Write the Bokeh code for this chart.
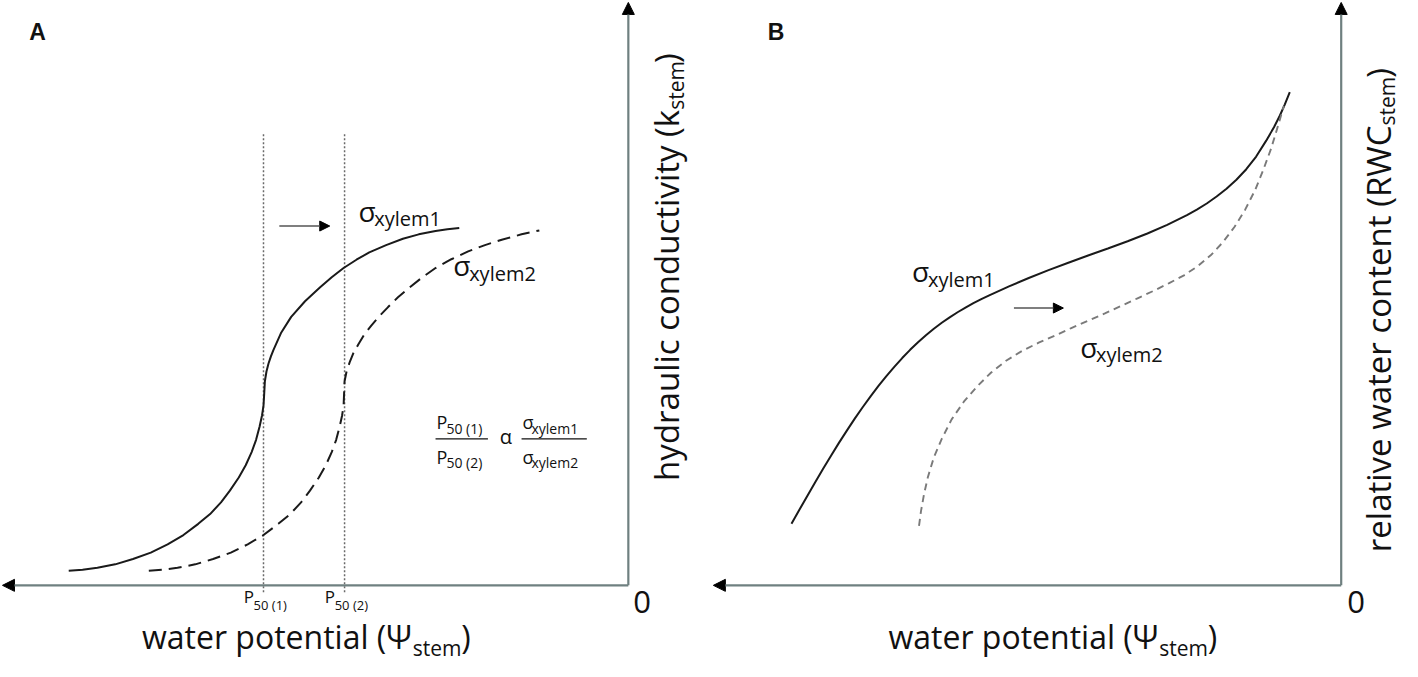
import math
from bokeh.plotting import figure
from bokeh.models import Range1d, Arrow, NormalHead
from bokeh.layouts import row
from bokeh.embed import file_html
from bokeh.resources import INLINE
from bokeh.core.properties import value

# ---------------- data (arbitrary units) ----------------
# Panel A: hydraulic conductivity vs water potential
psi_a1 = [-5.66, -5.52, -5.37, -5.19, -5.01, -4.83, -4.66, -4.50, -4.35, -4.23, -4.12,
          -4.03, -3.94, -3.87, -3.81, -3.765, -3.73, -3.705, -3.69, -3.683, -3.676,
          -3.66, -3.64, -3.615, -3.59, -3.51, -3.41, -3.27, -3.12, -3.00, -2.88,
          -2.75, -2.62, -2.45, -2.28, -2.12, -1.95, -1.83, -1.71]
k_a1 = [0.15, 0.16, 0.18, 0.215, 0.27, 0.335, 0.42, 0.515, 0.63, 0.73, 0.85,
        0.97, 1.105, 1.23, 1.365, 1.49, 1.625, 1.74, 1.84, 1.96, 2.09,
        2.19, 2.27, 2.345, 2.41, 2.59, 2.75, 2.91, 3.05, 3.155, 3.25,
        3.335, 3.41, 3.485, 3.55, 3.595, 3.63, 3.648, 3.66]
psi_a2 = [-4.85, -4.71, -4.56, -4.38, -4.20, -4.02, -3.85, -3.69, -3.54, -3.42, -3.31,
          -3.22, -3.13, -3.06, -3.00, -2.955, -2.92, -2.895, -2.88, -2.875,
          -2.87, -2.85, -2.82, -2.78, -2.73, -2.67, -2.60, -2.52, -2.43, -2.33,
          -2.22, -2.09, -1.95, -1.79, -1.62, -1.45, -1.28, -1.08, -0.90]
k_a2 = [0.15, 0.16, 0.18, 0.215, 0.27, 0.335, 0.42, 0.515, 0.63, 0.73, 0.85,
        0.97, 1.105, 1.23, 1.365, 1.49, 1.625, 1.74, 1.84, 1.96,
        2.09, 2.19, 2.28, 2.38, 2.47, 2.57, 2.66, 2.755, 2.85, 2.95,
        3.045, 3.15, 3.25, 3.34, 3.42, 3.485, 3.54, 3.595, 3.635]
p50_psi = [-3.69, -2.87]
p50_labels = ["50 (1)", "50 (2)"]

# Panel B: relative water content vs water potential
psi_b1 = [-5.56, -5.48, -5.40, -5.32, -5.24, -5.16, -5.08, -5.00, -4.92, -4.84, -4.76,
          -4.68, -4.60, -4.52, -4.44, -4.36, -4.28, -4.20, -4.12, -4.04, -3.96,
          -3.88, -3.80, -3.72, -3.64, -3.56, -3.36, -3.16, -2.96, -2.76, -2.56,
          -2.36, -2.16, -1.96, -1.76, -1.56, -1.46, -1.36, -1.26, -1.16, -1.06,
          -0.96, -0.86, -0.76, -0.68, -0.62, -0.57, -0.52]
rwc_b1 = [0.63, 0.774, 0.916, 1.056, 1.194, 1.328, 1.459, 1.585, 1.707, 1.824, 1.936,
          2.042, 2.143, 2.238, 2.328, 2.412, 2.49, 2.562, 2.628, 2.689, 2.745,
          2.797, 2.845, 2.89, 2.931, 2.97, 3.062, 3.148, 3.228, 3.304, 3.378,
          3.45, 3.524, 3.604, 3.692, 3.792, 3.848, 3.911, 3.982, 4.062, 4.154,
          4.262, 4.392, 4.552, 4.692, 4.812, 4.927, 5.052]
psi_b2 = [-4.27, -4.25, -4.22, -4.18, -4.12, -4.04, -3.94, -3.81, -3.68, -3.54, -3.39,
          -3.23, -3.06, -2.89, -2.73, -2.56, -2.39, -2.23, -2.06, -1.89, -1.74,
          -1.59, -1.45, -1.32, -1.20, -1.08, -0.97, -0.87, -0.79, -0.71, -0.65, -0.58]
rwc_b2 = [0.61, 0.76, 0.93, 1.11, 1.31, 1.50, 1.70, 1.89, 2.04, 2.18, 2.30,
          2.40, 2.485, 2.56, 2.635, 2.71, 2.785, 2.86, 2.94, 3.02, 3.095,
          3.175, 3.27, 3.38, 3.51, 3.67, 3.85, 4.05, 4.25, 4.47, 4.67, 4.91]

# ---------------- styling ----------------
FONT = "Open Sans"
INK = "#111111"
AXIS = "#6f8080"
Y_RANGE = (-0.78, 5.99)
PX_X = 98.87   # screen px per data unit (x)
PX_Y = 97.64   # screen px per data unit (y)


def make_fig(xr):
    p = figure(width=701, height=661, x_range=Range1d(*xr), y_range=Range1d(*Y_RANGE),
               output_backend="svg", toolbar_location=None, min_border=0,
               x_axis_location=None, y_axis_location=None)
    p.grid.visible = False
    p.outline_line_color = None
    p.background_fill_color = "white"
    p.border_fill_color = "white"
    return p


def txt(p, x, y, s, size, align="left", angle=0.0, font=FONT, style="normal", color=INK):
    """(x, y) is the text baseline start; converted to a 'middle' anchor."""
    off = 0.37 * size
    if angle == 0.0:
        y = y + off / PX_Y
    else:
        x = x - off / PX_X
    p.text(x=[x], y=[y], text=[s], text_font=value(font), text_font_size=value(f"{size}px"),
           text_align=align, text_baseline="middle", angle=angle,
           text_font_style=style, text_color=color)


def axes(p, xtip):
    for (xe, ye) in [(xtip, 0), (0, 5.97)]:
        p.add_layout(Arrow(end=NormalHead(size=12, fill_color="black", line_color="black"),
                           x_start=0, y_start=0, x_end=xe, y_end=ye,
                           line_color=AXIS, line_width=2.2))


def shift_arrow(p, x0, x1, y):
    p.add_layout(Arrow(end=NormalHead(size=10, fill_color="black", line_color="black"),
                       x_start=x0, y_start=y, x_end=x1, y_end=y,
                       line_color="#555555", line_width=1.5))


def sigma_label(p, x, y, sub, size=28, subsize=20):
    txt(p, x, y, "σ", size)
    txt(p, x + 0.16, y - 0.05, sub, subsize)


# ---------------- Panel A ----------------
pA = make_fig((-6.35, 0.74))
axes(pA, -6.33)
pA.segment(x0=p50_psi, y0=[-0.07] * 2, x1=p50_psi, y1=[4.62] * 2,
           line_dash="2 2", line_color="#6a6a6a", line_width=1.5)
pA.line(psi_a1, k_a1, line_color="#1a1a1a", line_width=2)
pA.line(psi_a2, k_a2, line_color="#1a1a1a", line_width=2, line_dash="13 7")
shift_arrow(pA, -3.53, -3.02, 3.68)
sigma_label(pA, -2.73, 3.73, "xylem1")
sigma_label(pA, -1.77, 3.17, "xylem2")

txt(pA, -6.06, 5.58, "A", 23, font="Liberation Sans", style="bold")
txt(pA, 0.05, -0.29, "0", 31)
# x label
txt(pA, -2.19, -0.65, "water potential (Ψ", 32, align="right")
txt(pA, -2.18, -0.72, "stem", 21)
txt(pA, -1.69, -0.65, ")", 32)
# y label
txt(pA, 0.51, 4.87, "hydraulic conductivity (k", 33, align="right", angle=math.pi / 2)
txt(pA, 0.56, 4.87, "stem", 21, angle=math.pi / 2)
txt(pA, 0.51, 5.35, ")", 33, angle=math.pi / 2)
# P50 tick labels
for xv, lab in zip(p50_psi, p50_labels):
    txt(pA, xv - 0.20, -0.18, "P", 17)
    txt(pA, xv - 0.10, -0.25, lab, 13)
# formula
txt(pA, -1.94, 1.60, "P", 18)
txt(pA, -1.84, 1.55, "50 (1)", 14)
txt(pA, -1.94, 1.25, "P", 18)
txt(pA, -1.84, 1.20, "50 (2)", 14)
pA.segment(x0=[-1.95, -1.08], y0=[1.50, 1.50], x1=[-1.42, -0.42], y1=[1.50, 1.50],
           line_color=INK, line_width=1.2)
txt(pA, -1.24, 1.445, "α", 20, align="center")
txt(pA, -1.07, 1.60, "σ", 18)
txt(pA, -0.98, 1.55, "xylem1", 14)
txt(pA, -1.07, 1.25, "σ", 18)
txt(pA, -0.98, 1.20, "xylem2", 14)

# ---------------- Panel B ----------------
pB = make_fig((-6.47, 0.62))
axes(pB, -6.35)
pB.line(psi_b1, rwc_b1, line_color="#1a1a1a", line_width=2)
pB.line(psi_b2, rwc_b2, line_color="#7a7a7a", line_width=1.9, line_dash="7 5")
shift_arrow(pB, -3.31, -2.81, 2.84)
sigma_label(pB, -4.34, 3.11, "xylem1")
sigma_label(pB, -2.64, 2.34, "xylem2")

txt(pB, -5.80, 5.58, "B", 23, font="Liberation Sans", style="bold")
txt(pB, 0.06, -0.29, "0", 31)
txt(pB, -1.85, -0.65, "water potential (Ψ", 32, align="right")
txt(pB, -1.84, -0.72, "stem", 21)
txt(pB, -1.35, -0.65, ")", 32)
txt(pB, 0.50, 4.71, "relative water content (RWC", 33, align="right", angle=math.pi / 2)
txt(pB, 0.54, 4.71, "stem", 21, angle=math.pi / 2)
txt(pB, 0.50, 5.20, ")", 33, angle=math.pi / 2)

layout = row(pA, pB)
open("out.html", "w").write(file_html(layout, INLINE))
